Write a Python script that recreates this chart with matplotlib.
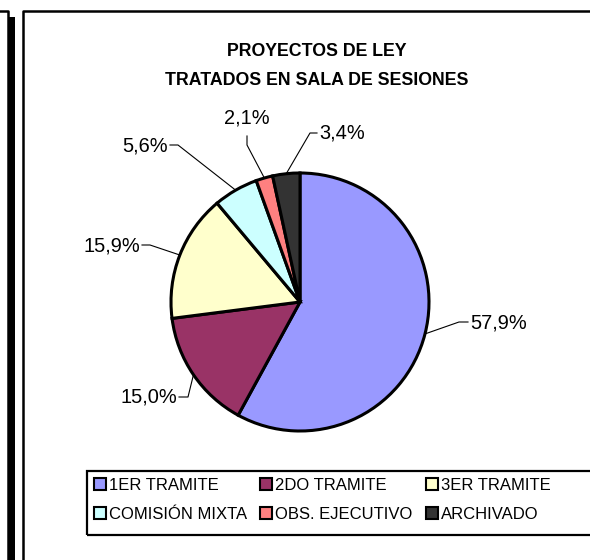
import matplotlib.pyplot as plt
import matplotlib.patches as mpatches
from matplotlib.lines import Line2D
import numpy as np

plt.rcParams['font.family'] = ['Liberation Sans', 'DejaVu Sans']

categorias = ["1ER TRAMITE", "2DO TRAMITE", "3ER TRAMITE",
              "COMISIÓN MIXTA", "OBS. EJECUTIVO", "ARCHIVADO"]
porcentajes = [57.9, 15.0, 15.9, 5.6, 2.1, 3.4]
etiquetas = ["57,9%", "15,0%", "15,9%", "5,6%", "2,1%", "3,4%"]
colores = ["#9999FF", "#993366", "#FFFFCC", "#CCFFFF", "#FF8080", "#333333"]
titulo = ["PROYECTOS DE LEY", "TRATADOS EN SALA DE SESIONES"]

W, H = 590, 560
CX, CY, R = 300, 302, 129  # centro y radio de la torta (pixeles)
LIM = 1.6

# posicion de cada etiqueta en pixeles: codo, fin de la guia, texto, alineacion
guias = [
    ((459, 322), (468, 322), (470, 329), "left"),
    ((188, 397), (179, 397), (177, 403), "right"),
    ((150, 245), (142, 245), (140, 252), "right"),
    ((178, 145), (170, 145), (168, 152), "right"),
    ((247, 145), (247, 136), (247, 124), "center"),
    ((310, 133), (317, 133), (319, 139), "left"),
]


def px2data(x, y):
    return (x - CX) / R, (CY - y) / R


fig = plt.figure(figsize=(W / 100, H / 100), dpi=100)

ax = fig.add_axes([(CX - LIM * R) / W, 1 - (CY + LIM * R) / H,
                   2 * LIM * R / W, 2 * LIM * R / H])
wedges, _ = ax.pie(porcentajes, colors=colores, startangle=90, counterclock=False,
                   wedgeprops=dict(edgecolor="black", linewidth=2.2))
ax.set_xlim(-LIM, LIM)
ax.set_ylim(-LIM, LIM)
ax.axis("off")

for w, lab, (codo, fin, txt, ha) in zip(wedges, etiquetas, guias):
    ang = np.deg2rad((w.theta1 + w.theta2) / 2)
    borde = (np.cos(ang), np.sin(ang))
    p1 = px2data(*codo)
    p2 = px2data(*fin)
    ax.plot([borde[0], p1[0], p2[0]], [borde[1], p1[1], p2[1]],
            color="black", lw=0.8, clip_on=False)
    tx, ty = px2data(*txt)
    ax.text(tx, ty, lab, ha=ha, va="baseline", fontsize=14.4)

# titulo
fig.text(317 / W, 1 - 56 / H, titulo[0], ha="center", va="baseline",
         fontsize=12.8, fontweight="bold")
fig.text(317 / W, 1 - 85 / H, titulo[1], ha="center", va="baseline",
         fontsize=12.8, fontweight="bold")

# leyenda (orden por columnas)
orden = [0, 3, 1, 4, 2, 5]
handles = [mpatches.Patch(facecolor=colores[i], edgecolor="black", linewidth=1.5)
           for i in orden]
fig.legend(handles, [categorias[i] for i in orden], ncol=3, loc="upper left",
           bbox_to_anchor=(94 / W, 1 - 478 / H), frameon=False, fontsize=12,
           handlelength=0.72, handleheight=0.72, handletextpad=0.18,
           columnspacing=0.8, labelspacing=0.85, borderpad=0, borderaxespad=0)
fig.add_artist(mpatches.Rectangle((87 / W, 1 - 534.5 / H), (600 - 87) / W,
                                  (534.5 - 471) / H, transform=fig.transFigure,
                                  fill=False, edgecolor="black", lw=1.6))

# marco del grafico y borde del grafico vecino
fig.add_artist(Line2D([23 / W, 23 / W, 1.01], [-0.01, 1 - 11.3 / H, 1 - 11.3 / H],
                      transform=fig.transFigure, color="black", lw=1.8))
fig.add_artist(Line2D([0, 8.3 / W, 8.3 / W], [1 - 11.3 / H, 1 - 11.3 / H, -0.01],
                      transform=fig.transFigure, color="black", lw=1.8))
fig.add_artist(mpatches.Rectangle((8.3 / W, -0.01), 6.7 / W, 0.01 + 1 - 16.7 / H,
                                  transform=fig.transFigure, color="black", lw=0))

fig.savefig("out.png", dpi=100)
